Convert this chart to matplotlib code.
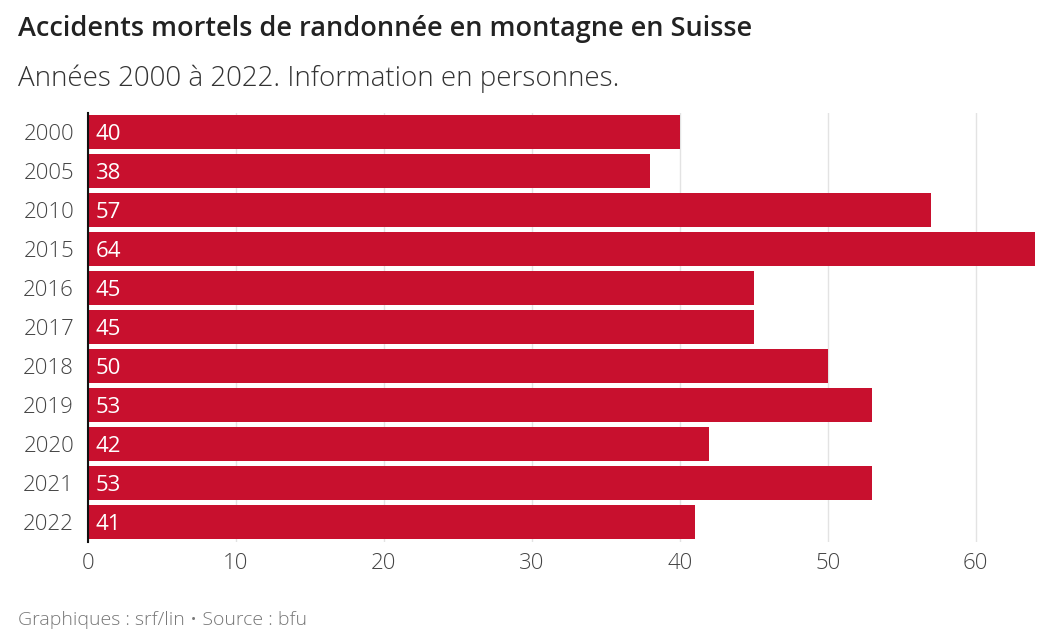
import matplotlib.pyplot as plt

years = ["2000", "2005", "2010", "2015", "2016", "2017", "2018", "2019", "2020", "2021", "2022"]
deaths = [40, 38, 57, 64, 45, 45, 50, 53, 42, 53, 41]
xticks = [0, 10, 20, 30, 40, 50, 60]

BAR_COLOUR = "#c8102e"
TEXT_COLOUR = "#222222"

plt.rcParams["font.family"] = ["Open Sans", "DejaVu Sans"]

fig = plt.figure(figsize=(10.63, 6.43), dpi=100)
ax = fig.add_axes([88 / 1063, 1 - 541.5 / 643, (1035 - 88) / 1063, (541.5 - 112.5) / 643])

y = list(range(len(years)))
bars = ax.barh(y, deaths, height=0.85, color=BAR_COLOUR, zorder=2)
for bar, v in zip(bars, deaths):
    # va=center_baseline sits the digits a touch lower, like the reference
    ax.text(0.5, bar.get_y() + bar.get_height() / 2, str(v), color="white",
            fontsize=16, va="center_baseline", ha="left", zorder=3)

ax.set_xlim(0, 64)
ax.set_ylim(len(years) - 0.5, -0.5)
ax.set_yticks(y, years)
ax.set_xticks(xticks, [str(t) for t in xticks])
ax.tick_params(axis="both", length=0, labelsize=16, colors="#444444")
ax.tick_params(axis="y", pad=10)
ax.tick_params(axis="x", pad=8)
for lab in ax.get_xticklabels() + ax.get_yticklabels():
    lab.set_fontweight("light")

ax.grid(axis="x", color="#e3e3e3", linewidth=1, zorder=0)
for s in ["top", "right", "bottom"]:
    ax.spines[s].set_visible(False)
ax.spines["left"].set_color("#111111")
ax.spines["left"].set_linewidth(1.5)
ax.spines["left"].set_zorder(4)

fig.text(18 / 1063, 1 - 29 / 643, "Accidents mortels de randonnée en montagne en Suisse",
         fontsize=19.5, fontweight="semibold", color=TEXT_COLOUR, va="center")
fig.text(18 / 1063, 1 - 79 / 643, "Années 2000 à 2022. Information en personnes.",
         fontsize=20, fontweight="light", color="#333333", va="center")
fig.text(18 / 1063, 1 - 620 / 643, "Graphiques : srf/lin • Source : bfu",
         fontsize=14, fontweight="light", color="#777777", va="center")

fig.savefig("out.png", dpi=100)
